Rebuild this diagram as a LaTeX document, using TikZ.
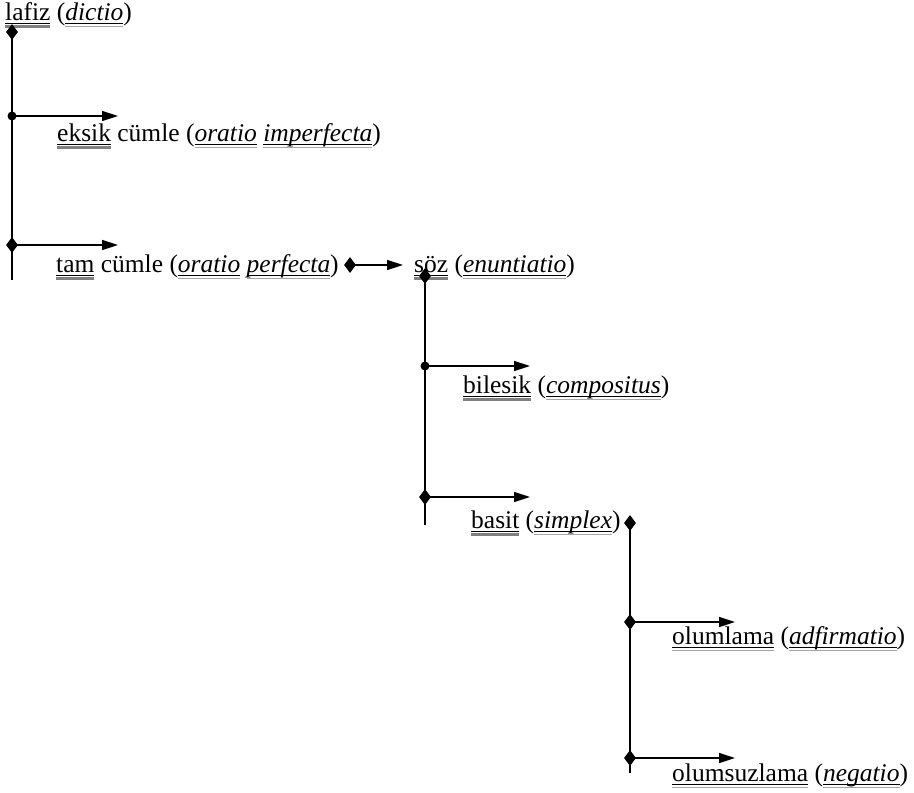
\documentclass[tikz,border=0pt]{standalone}
\usepackage{fontspec}
\setmainfont{Liberation Serif}
\usetikzlibrary{arrows.meta,shapes.geometric}
% Word-style marks under the words
\newcommand\gramu[1]{\setbox0\hbox{#1}\rlap{\raisebox{-3.5pt}{\rule{\wd0}{1pt}}}\rlap{\raisebox{-7.5pt}{\color{gray}\rule{\wd0}{3pt}}}\box0\relax}
\newcommand\spellu[1]{\setbox0\hbox{#1}\rlap{\raisebox{-3.5pt}{\rule{\wd0}{1pt}}}\rlap{\raisebox{-6.5pt}{\color{gray!70}\rule{\wd0}{1pt}}}\box0\relax}

\begin{document}
\begin{tikzpicture}[x=1pt,y=-1pt,
  lbl/.style={anchor=base west,inner sep=0pt,font=\fontsize{25.5}{30}\selectfont},
  knot/.style={diamond,fill,inner sep=0pt,minimum width=12pt,minimum height=16pt},
  dot/.style={circle,fill,inner sep=0pt,minimum size=9pt},
  stem/.style={line width=1.8pt},
  branch/.style={line width=1.5pt,-{Triangle[length=16pt,width=10pt]}}]
\useasboundingbox (0,0) rectangle (914,793);
% labels
\node[lbl] (lafiz) at (5,20) {\gramu{lafiz} (\spellu{\textit{dictio}})};
\node[lbl] (eksik) at (57,141) {\gramu{eksik} cümle (\spellu{\textit{oratio}} \spellu{\textit{imperfecta}})};
\node[lbl] (tam) at (56,272) {\gramu{tam} cümle (\spellu{\textit{oratio}} \spellu{\textit{perfecta}})};
\node[lbl] (soz) at (414,272) {\gramu{söz} (\spellu{\textit{enuntiatio}})};
\node[lbl] (bilesik) at (463,393) {\gramu{bilesik} (\spellu{\textit{compositus}})};
\node[lbl] (basit) at (471,528) {\gramu{basit} (\spellu{\textit{simplex}})};
\node[lbl] (olumlama) at (672,644) {\spellu{olumlama} (\spellu{\textit{adfirmatio}})};
\node[lbl] (olumsuz) at (672,781) {\spellu{olumsuzlama} (\spellu{\textit{negatio}})};
% first stem
\coordinate (s1) at (12,32);
\coordinate (e1) at (12,280);
\draw[stem] (s1) -- (e1);
\node[knot] (k1) at (s1) {};
\node[dot] (d1) at (12,116) {};
\node[knot] (k2) at (12,245) {};
\draw[branch] (d1.center) -- (118,116);
\draw[branch] (k2.center) -- (118,245);
% tam -> soz
\node[knot] (k3) at (350,265) {};
\draw[branch] (k3.center) -- (403,265);
% second stem
\coordinate (s2) at (425,276);
\coordinate (e2) at (425,525);
\draw[stem] (s2) -- (e2);
\node[knot] (k4) at (s2) {};
\node[dot] (d2) at (425,366) {};
\node[knot] (k5) at (425,497) {};
\draw[branch] (d2.center) -- (530,366);
\draw[branch] (k5.center) -- (530,497);
% third stem
\coordinate (s3) at (630,523);
\coordinate (e3) at (630,773);
\draw[stem] (s3) -- (e3);
\node[knot] (k6) at (s3) {};
\node[knot] (k7) at (630,622) {};
\node[knot] (k8) at (630,758) {};
\draw[branch] (k7.center) -- (735,622);
\draw[branch] (k8.center) -- (735,758);
\end{tikzpicture}
\end{document}
